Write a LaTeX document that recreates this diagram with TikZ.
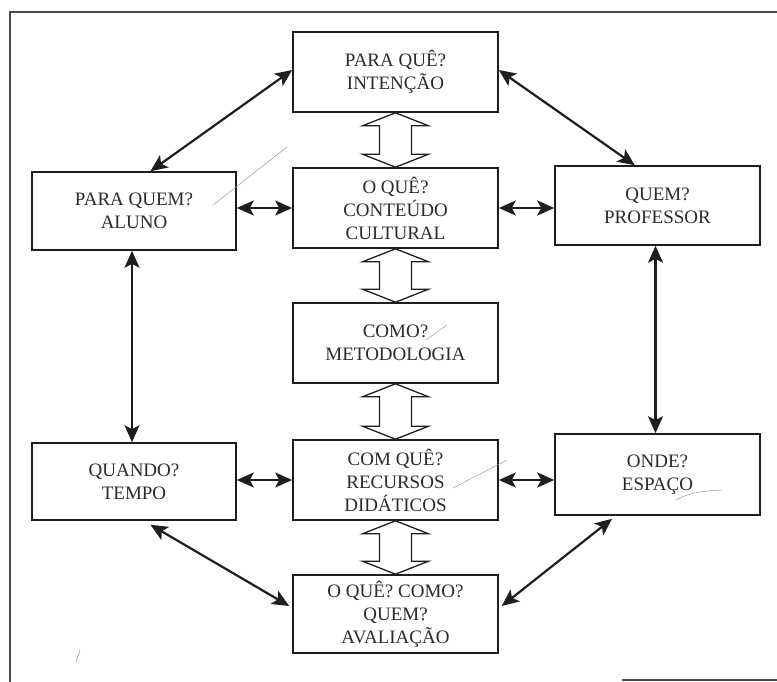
\documentclass[tikz,border=0pt]{standalone}
\usepackage{fontspec}
\setmainfont{Liberation Serif}
\usetikzlibrary{arrows.meta,calc}
\definecolor{ink}{HTML}{1E1E1E}
\definecolor{txt}{HTML}{2A2A2A}
\definecolor{pencil}{HTML}{999999}
\tikzset{
  box/.style={draw=ink, line width=1.6pt, rectangle, minimum width=205pt, minimum height=80pt,
    align=center, inner sep=0pt, text=txt, font=\fontsize{19}{23}\selectfont},
  dbl/.style={draw=ink, line width=2.2pt, {Stealth[length=17pt,width=15pt,inset=4pt]}-{Stealth[length=17pt,width=15pt,inset=4pt]}},
  hollow/.style={draw=ink, line width=1.3pt, fill=white, line join=miter},
  frameline/.style={draw=ink!80, line width=1.3pt},
  pencilmark/.style={draw=pencil, line width=0.5pt}
}
\newcommand{\hollowarrow}[2]{%
  \path[hollow] let \p1=(#1.south), \p2=(#2.north) in
    (\x1,\y1) -- ($(\x1,\y1)+(33,13)$) -- ($(\x1,\y1)+(16,13)$) -- ($(\x2,\y2)+(16,-13)$) --
    ($(\x2,\y2)+(33,-13)$) -- (\x2,\y2) -- ($(\x2,\y2)+(-33,-13)$) -- ($(\x2,\y2)+(-16,-13)$) --
    ($(\x1,\y1)+(-16,13)$) -- ($(\x1,\y1)+(-33,13)$) -- cycle;}
\begin{document}
\begin{tikzpicture}[x=1pt,y=-1pt]
\useasboundingbox (0,0) rectangle (777,682);
% frame
\coordinate (fTL) at (10,12);
\coordinate (fBL) at (10,682);
\coordinate (fTR) at (777,12);
\coordinate (fB1) at (622,680);
\coordinate (fB2) at (777,680);
\draw[frameline] (fBL) -- (fTL) -- (fTR);
\draw[frameline] (fB1) -- (fB2);

% boxes
\node[box] (top)  at (395.5,72)  {PARA QUÊ?\\INTENÇÃO};
\node[box] (cont) at (395.5,208) {O QUÊ?\\CONTEÚDO\\CULTURAL};
\node[box] (met)  at (395.5,343) {COMO?\\METODOLOGIA};
\node[box] (rec)  at (395.5,480) {COM QUÊ?\\RECURSOS\\DIDÁTICOS};
\node[box, minimum height=78pt] (aval) at (395.5,614) {O QUÊ? COMO?\\QUEM?\\AVALIAÇÃO};
\node[box, minimum width=204pt, minimum height=78pt] (aluno) at (134,211) {PARA QUEM?\\ALUNO};
\node[box, minimum width=204pt, minimum height=77pt] (tempo) at (134,481.5) {QUANDO?\\TEMPO};
\node[box, minimum height=79pt] (prof) at (657.5,205.5) {QUEM?\\PROFESSOR};
\node[box, minimum height=81pt] (onde) at (657.5,474.5) {ONDE?\\ESPAÇO};

% hollow double arrows
\hollowarrow{top}{cont}
\hollowarrow{cont}{met}
\hollowarrow{met}{rec}
\hollowarrow{rec}{aval}

% double arrows
\draw[dbl] ($(top.west)+(0,-2)$) -- ($(aluno.north west)!0.58!(aluno.north east)$);
\draw[dbl] ($(top.east)+(0,-2)$) -- ($(prof.north west)!0.39!(prof.north east)$);
\draw[dbl] (aluno.east |- cont.west) -- (cont.west);
\draw[dbl] (cont.east) -- (prof.west |- cont.east);
\draw[dbl] ($(aluno.south)+(-2,0)$) -- ($(tempo.north)+(-2,0)$);
\draw[dbl] ($(prof.south)+(-2,0)$) -- ($(onde.north)+(-2,0)$);
\draw[dbl] (tempo.east |- rec.west) -- (rec.west);
\draw[dbl] (rec.east) -- (onde.west |- rec.east);
\draw[dbl] ($(tempo.south west)!0.58!(tempo.south east)+(0,4)$) -- ($(aval.west)+(-3,-8)$);
\draw[dbl] ($(onde.south west)!0.28!(onde.south east)+(0,3)$) -- ($(aval.east)+(3,-8)$);

% pencil marks
\coordinate (p1a) at (213,205); \coordinate (p1b) at (287,147);
\draw[pencilmark] (p1a) -- (p1b);
\coordinate (p2a) at (426,340); \coordinate (p2b) at (447,325);
\draw[pencilmark] (p2a) -- (p2b);
\coordinate (p3a) at (453,488); \coordinate (p3b) at (507,460);
\draw[pencilmark] (p3a) -- (p3b);
\coordinate (p4a) at (676,500); \coordinate (p4b) at (722,490);
\draw[pencilmark] (p4a) .. controls (690,492) and (705,491) .. (p4b);
\coordinate (p5a) at (76,662); \coordinate (p5b) at (80,650);
\draw[pencilmark] (p5a) -- (p5b);
\end{tikzpicture}
\end{document}
